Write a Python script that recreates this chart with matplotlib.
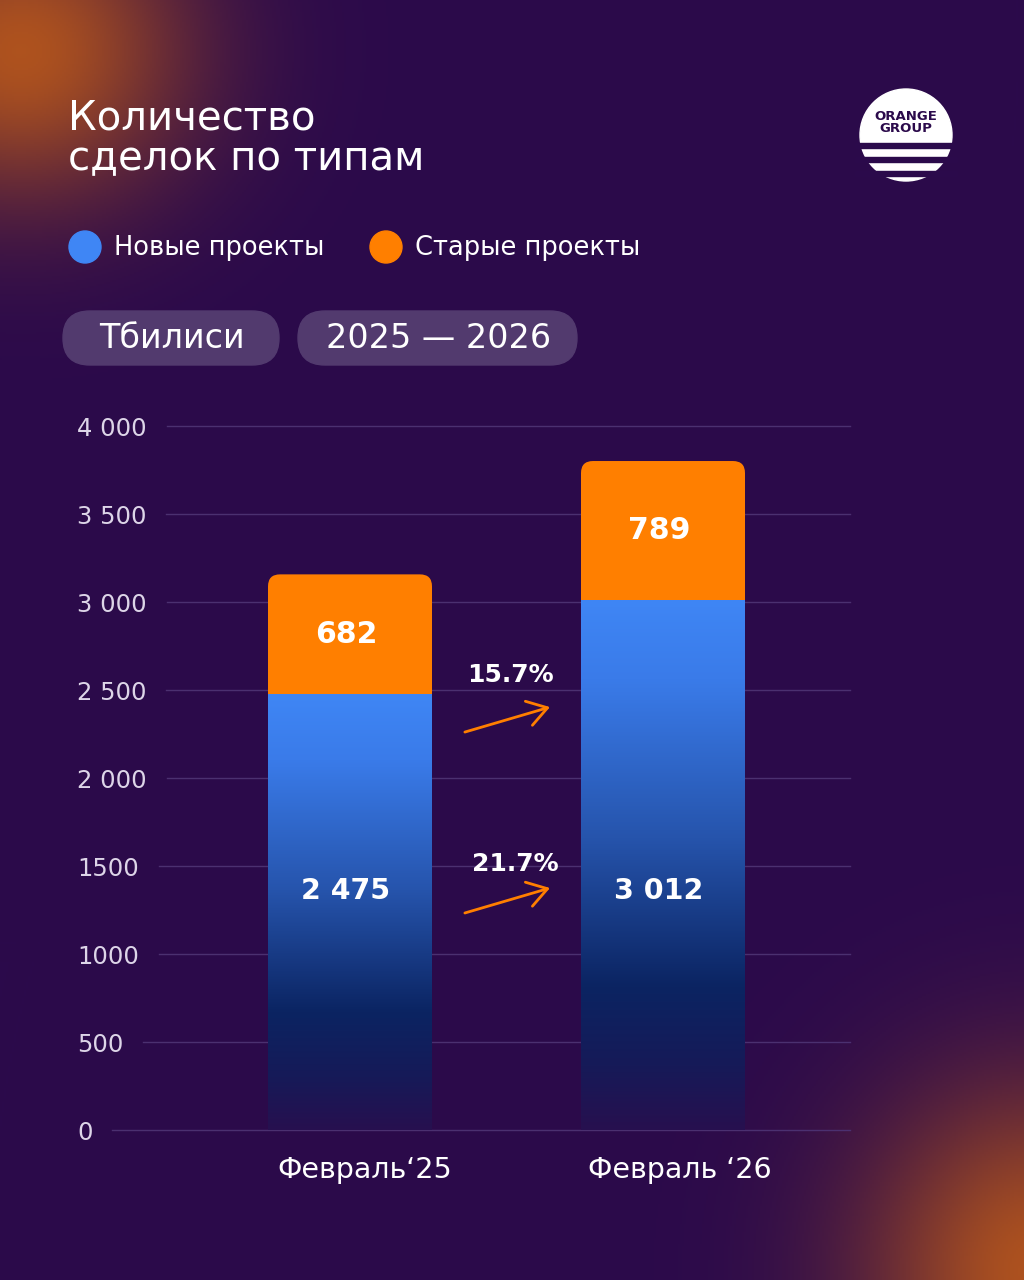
import numpy as np
import matplotlib
matplotlib.use("Agg")
import matplotlib.pyplot as plt
from matplotlib.colors import LinearSegmentedColormap, to_rgb
from matplotlib.patches import FancyBboxPatch, Circle, Rectangle

# данные
categories = ["Февраль‘25", "Февраль ‘26"]
new_projects = [2475, 3012]
old_projects = [682, 789]
y_ticks = [0, 500, 1000, 1500, 2000, 2500, 3000, 3500, 4000]
y_tick_labels = ["0", "500", "1000", "1500", "2 000", "2 500", "3 000", "3 500", "4 000"]

title_lines = ["Количество", "сделок по типам"]
legend_labels = ["Новые проекты", "Старые проекты"]
pills = ["Тбилиси", "2025 — 2026"]

BG = "#2b0a4b"
BLUE = "#3f86f5"
ORANGE = "#ff7f00"
PILL = "#523a6e"
GRID = "#4b3070"
TICK = "#ddd5e8"

plt.rcParams["font.family"] = ["DejaVu Sans"]

W, H = 1024, 1280
fig = plt.figure(figsize=(W / 100, H / 100), dpi=100)
fig.patch.set_facecolor(BG)

# фон с оранжевыми пятнами
bg = fig.add_axes([0, 0, 1, 1], zorder=0)
bg.set_xlim(0, W)
bg.set_ylim(H, 0)
bg.axis("off")
yy, xx = np.mgrid[0:H:2, 0:W:2]
base = np.array(to_rgb(BG))
glow = np.array(to_rgb("#b5561c"))
img = np.ones((yy.shape[0], yy.shape[1], 3)) * base
for cx, cy, rx, ry, a in [(20, 50, 190, 170, 0.95), (1040, 1270, 200, 210, 0.95)]:
    d2 = ((xx - cx) / rx) ** 2 + ((yy - cy) / ry) ** 2
    k = np.exp(-d2 * 1.3) * a
    img = img * (1 - k[..., None]) + glow * k[..., None]
bg.imshow(img, extent=(0, W, H, 0), aspect="auto", zorder=0)

# заголовок
for line, yb in zip(title_lines, [130, 170]):
    bg.text(68, yb, line, color="white", fontsize=29, ha="left", va="baseline", zorder=3)

# логотип
bg.add_patch(Circle((906, 135), 46, color="white", zorder=3))
for y0, h in [(143, 5), (157, 5), (171, 5)]:
    bg.add_patch(Rectangle((855, y0), 102, h, color=BG, zorder=4))
bg.text(906, 116, "ORANGE", color=BG, fontsize=9.5, fontweight="bold",
        ha="center", va="center", zorder=5)
bg.text(906, 129, "GROUP", color=BG, fontsize=9.5, fontweight="bold",
        ha="center", va="center", zorder=5)

# легенда
for (cx, tx), col, lab in zip([(85, 114), (386, 415)], [BLUE, ORANGE], legend_labels):
    bg.add_patch(Circle((cx, 247), 16, color=col, zorder=3))
    bg.text(tx, 248, lab, color="white", fontsize=18.5, ha="left", va="center", zorder=3)

# плашки
for (x0, x1), lab in zip([(63, 279), (298, 577)], pills):
    bg.add_patch(FancyBboxPatch((x0, 311), x1 - x0, 54,
                                boxstyle="round,pad=0,rounding_size=27",
                                color=PILL, zorder=3))
    bg.text((x0 + x1) / 2 + 1, 339, lab, color="white", fontsize=24,
            ha="center", va="center", zorder=4)

# график
ax_left, ax_right, ax_bottom, ax_top = 115, 870, 1130, 426
ax = fig.add_axes([ax_left / W, (H - ax_bottom) / H,
                   (ax_right - ax_left) / W, (ax_bottom - ax_top) / H], zorder=2)
ax.patch.set_alpha(0)
px_per_cat = 313
x0_lim = -(350 - ax_left) / px_per_cat
x1_lim = 1 + (ax_right - 663) / px_per_cat
ax.set_xlim(x0_lim, x1_lim)
ax.set_ylim(0, 4000)
for s in ax.spines.values():
    s.set_visible(False)
ax.set_xticks([])
ax.set_yticks(y_ticks)
ax.set_yticklabels(y_tick_labels)
ax.tick_params(axis="y", length=0, pad=38 * 0.72, labelsize=17.5, labelcolor=TICK)
for t in ax.get_yticklabels():
    t.set_horizontalalignment("left")

x = np.arange(len(categories))
bw = 164 / px_per_cat
ux = 1 / px_per_cat            # пиксель в единицах x
uy = 4000 / (ax_bottom - ax_top)  # пиксель в единицах y
rad = 12

blue_cmap = LinearSegmentedColormap.from_list("blue_grad", [
    (0.0, "#27104f"), (0.12, "#161a58"), (0.27, "#0b2462"),
    (0.55, "#2654ac"), (0.85, "#3a7be9"), (1.0, BLUE)])

blue_bars = ax.bar(x, new_projects, width=bw, color="none", zorder=3)
for xi, b, o, rect in zip(x, new_projects, old_projects, blue_bars):
    ax.add_patch(FancyBboxPatch((xi - bw / 2, b - 150), bw, o + 150,
                                boxstyle=f"round,pad=0,rounding_size={rad * ux}",
                                mutation_aspect=uy / ux, color=ORANGE, lw=0, zorder=2))
    grad = np.linspace(0, 1, 256)[:, None]
    im = ax.imshow(grad, extent=(xi - bw / 2, xi + bw / 2, 0, b), origin="lower",
                   aspect="auto", cmap=blue_cmap, zorder=3)
    im.set_clip_path(rect)
    ax.text(xi - 4 * ux, b + o / 2, f"{o:,}".replace(",", " "), color="white",
            fontsize=21.5, fontweight="bold", ha="center", va="center", zorder=5)
    ax.text(xi - 4 * ux, 1360, f"{b:,}".replace(",", " "), color="white",
            fontsize=20.5, fontweight="bold", ha="center", va="center", zorder=5)
ax.set_xlim(x0_lim, x1_lim)
ax.set_ylim(0, 4000)

# подписи категорий
for xi, cat, dx in zip(x, categories, [15, 17]):
    ax.text(xi + dx * ux, -40 * uy, cat, color="white", fontsize=20.5,
            ha="center", va="center", zorder=5)

# рост
pct_old = (old_projects[1] / old_projects[0] - 1) * 100
pct_new = (new_projects[1] / new_projects[0] - 1) * 100
for pct, ty, ay0, ay1, tdx in [(pct_old, 2585, 2261, 2403, 0.511),
                                (pct_new, 1511, 1233, 1375, 0.527)]:
    ax.text(tdx, ty, f"{pct:.1f}%", color="white", fontsize=18, fontweight="bold",
            ha="center", va="center", zorder=5)
    ax.annotate("", xy=(0.639, ay1), xytext=(0.367, ay0),
                arrowprops=dict(arrowstyle="->,head_length=0.7,head_width=0.45",
                                color=ORANGE, lw=2, mutation_scale=20,
                                shrinkA=0, shrinkB=0), zorder=5)

# сетка от конца подписи
fig.canvas.draw()
inv = ax.transData.inverted()
x_end = inv.transform((850, 0))[0]
for yt, lab in zip(y_ticks, ax.get_yticklabels()):
    bb = lab.get_window_extent()
    xs = inv.transform((bb.x1 + 20, 0))[0]
    ax.plot([xs, x_end], [yt, yt], color=GRID, lw=1, zorder=1, clip_on=False)
ax.set_xlim(x0_lim, x1_lim)

fig.savefig("out.png", dpi=100, facecolor=BG)
